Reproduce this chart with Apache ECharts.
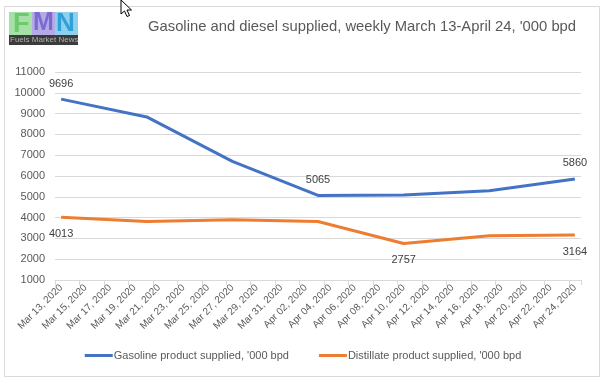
<!DOCTYPE html>
<html>
<head>
<meta charset="utf-8">
<script src="https://cdn.jsdelivr.net/npm/echarts@6/dist/echarts.min.js"></script>
<style>
html,body{margin:0;padding:0;background:#fff;}
#chart{width:606px;height:385px;}
</style>
</head>
<body>
<div id="chart"></div>
<script>
// ---- data ----
var titleText = "Gasoline and diesel supplied, weekly March 13-April 24, '000 bpd";
var weekDates = ['2020-03-13','2020-03-20','2020-03-27','2020-04-03','2020-04-10','2020-04-17','2020-04-24'];
var gasoline = [9696, 8840, 6700, 5065, 5090, 5290, 5860];
var distillate = [4013, 3810, 3900, 3810, 2757, 3130, 3164];
var gasolineLabelIdx = [0, 3, 6];
var distillateLabelIdx = [0, 4, 6];
var seriesNames = ["Gasoline product supplied, '000 bpd", "Distillate product supplied, '000 bpd"];
var axisStart = '2020-03-13';
var axisEnd = '2020-04-24';
var yMin = 1000, yMax = 11000, yStep = 1000;

// ---- build daily category axis ----
var months = ['Jan','Feb','Mar','Apr','May','Jun','Jul','Aug','Sep','Oct','Nov','Dec'];
function parse(s){var p=s.split('-');return Date.UTC(+p[0],+p[1]-1,+p[2]);}
var dayKeys = [], dayLabels = [];
for (var t = parse(axisStart); t <= parse(axisEnd); t += 86400000) {
  var d = new Date(t);
  dayKeys.push(t);
  var dd = d.getUTCDate();
  dayLabels.push(months[d.getUTCMonth()] + ' ' + (dd < 10 ? '0' + dd : dd) + ', ' + d.getUTCFullYear());
}
function buildSeries(values, labelIdx, pos) {
  var arr = dayKeys.map(function(){return null;});
  weekDates.forEach(function(ds, i){
    var k = dayKeys.indexOf(parse(ds));
    var item = {value: values[i]};
    if (labelIdx.indexOf(i) >= 0) item.label = {show: true, position: pos};
    arr[k] = item;
  });
  return arr;
}

var chart = echarts.init(document.getElementById('chart'), null, {renderer: 'canvas'});
var font = 'Liberation Sans, Arial, sans-serif';
chart.setOption({
  backgroundColor: '#fff',
  animation: false,
  title: {
    text: titleText, left: 143, top: 14,
    textStyle: {fontFamily: font, fontSize: 14.8, fontWeight: 'normal', color: '#595959'}
  },
  legend: {
    bottom: 19, left: 'center', itemWidth: 28, itemHeight: 3, itemGap: 30, icon: 'rect',
    textStyle: {fontFamily: font, fontSize: 11, color: '#595959', padding: [0,0,0,-4]}
  },
  grid: {left: 55, right: 25, top: 72, bottom: 105},
  xAxis: {
    type: 'category', data: dayLabels, boundaryGap: true,
    axisLine: {lineStyle: {color: '#d9d9d9'}},
    axisTick: {show: true, interval: 1, length: 5, lineStyle: {color: '#d9d9d9'}},
    axisLabel: {interval: 1, rotate: 45, margin: 6, fontFamily: font, fontSize: 10, color: '#595959'}
  },
  yAxis: {
    type: 'value', min: yMin, max: yMax, interval: yStep,
    axisLine: {show: false}, axisTick: {show: false},
    splitLine: {lineStyle: {color: '#d9d9d9'}},
    axisLabel: {fontFamily: font, fontSize: 11, color: '#595959', margin: 10,
      formatter: function(v){return String(v);}}
  },
  series: [
    {name: seriesNames[0], type: 'line', connectNulls: true, showSymbol: true, symbol: 'circle', symbolSize: 0,
     data: buildSeries(gasoline, gasolineLabelIdx, 'top'),
     lineStyle: {width: 3, color: '#4472C4'}, itemStyle: {color: '#4472C4'},
     label: {distance: 10, fontFamily: font, fontSize: 11, color: '#404040'}},
    {name: seriesNames[1], type: 'line', connectNulls: true, showSymbol: true, symbol: 'circle', symbolSize: 0,
     data: buildSeries(distillate, distillateLabelIdx, 'bottom'),
     lineStyle: {width: 3, color: '#ED7D31'}, itemStyle: {color: '#ED7D31'},
     label: {distance: 11, fontFamily: font, fontSize: 11, color: '#404040'}}
  ],
  graphic: [
    {type: 'rect', shape: {x: 4.5, y: 6.5, width: 595, height: 370}, style: {fill: 'none', stroke: '#d9d9d9', lineWidth: 1}, z: -1},
    {type: 'rect', shape: {x: 9, y: 12, width: 23, height: 23}, style: {fill: '#a6e0a6'}},
    {type: 'text', left: 13, top: 11, style: {text: 'F', fontSize: 27, fontWeight: 'bold', fontFamily: font, fill: '#6cc96c'}},
    {type: 'rect', shape: {x: 32, y: 12, width: 23, height: 23}, style: {fill: '#b5aae6'}},
    {type: 'text', left: 33, top: 11, style: {text: 'M', fontSize: 25, fontWeight: 'bold', fontFamily: font, fill: '#7b6ad0'}},
    {type: 'rect', shape: {x: 55, y: 12, width: 23, height: 23}, style: {fill: '#8fd0ef'}},
    {type: 'text', left: 56, top: 11, style: {text: 'N', fontSize: 26, fontWeight: 'bold', fontFamily: font, fill: '#2fa0d8'}},
    {type: 'rect', shape: {x: 9, y: 35, width: 69, height: 10}, style: {fill: '#3b3b3b'}},
    {type: 'text', left: 10, top: 36, style: {text: 'Fuels Market News', fontSize: 8, fontFamily: font, fill: '#b0b0b0'}},
    {type: 'polygon', shape: {points: [[121,0],[121,14],[124.5,11],[127,16.5],[129.5,15.5],[127,10],[131.5,10]]},
     style: {fill: '#fff', stroke: '#000', lineWidth: 1}, z: 100}
  ]
});
</script>
</body>
</html>
